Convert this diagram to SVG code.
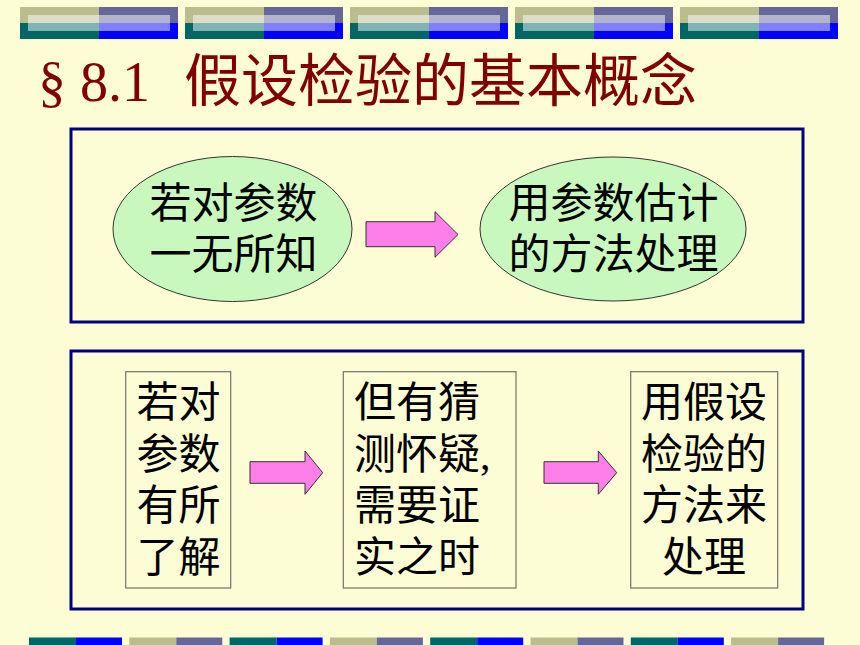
<svg xmlns="http://www.w3.org/2000/svg" width="860" height="645" viewBox="0 0 860 645">
<style>
.bg{fill:#FCFCD5}
.frame{fill:none;stroke:#000080;stroke-width:3}
.oval{fill:#C9F8BE;stroke:#333;stroke-width:1}
.box{fill:none;stroke:#707070;stroke-width:1.2}
.arrow{fill:#FF7FEA;stroke:#333;stroke-width:1}
.sans{font-family:"Liberation Sans","Noto Sans CJK SC",sans-serif;font-size:42px;fill:#000}
.serif{font-family:"Liberation Serif","Noto Sans CJK SC",serif;font-size:42px;fill:#000}
.title{font-family:"Liberation Serif","Noto Sans CJK SC",serif;font-size:56px;fill:#800000}
.ol{fill:#BBBD8F}.pu{fill:#666699}.te{fill:#006666}.bl{fill:#0000FF}
.hl{fill:#FFFFFF;fill-opacity:0.5}
</style>
<defs>
<g id="topblock">
<rect x="0" y="7" width="79" height="16" class="ol"/>
<rect x="79" y="7" width="79" height="16" class="pu"/>
<rect x="0" y="23" width="79" height="16" class="te"/>
<rect x="79" y="23" width="79" height="16" class="bl"/>
<rect x="8" y="15" width="142" height="16" class="hl"/>
</g>
<g id="botA">
<rect x="0" y="637.5" width="47" height="7.5" class="te"/>
<rect x="47" y="637.5" width="46" height="7.5" class="bl"/>
</g>
<g id="botB">
<rect x="0" y="637.5" width="47" height="7.5" class="ol"/>
<rect x="47" y="637.5" width="46" height="7.5" class="pu"/>
</g>
</defs>
<rect class="bg" x="0" y="0" width="860" height="645"/>
<g id="decor-top">
<use href="#topblock" x="20"/>
<use href="#topblock" x="185"/>
<use href="#topblock" x="350"/>
<use href="#topblock" x="515"/>
<use href="#topblock" x="680"/>
</g>
<g id="decor-bottom">
<use href="#botA" x="29"/>
<use href="#botB" x="129.3"/>
<use href="#botA" x="229.6"/>
<use href="#botB" x="329.9"/>
<use href="#botA" x="430.2"/>
<use href="#botB" x="530.5"/>
<use href="#botA" x="630.8"/>
<use href="#botB" x="731.1"/>
</g>
<g id="title">
<text class="title" y="101"><tspan x="38">§ 8.1</tspan><tspan x="184" font-size="57">假设检验的基本概念</tspan></text>
</g>
<g id="frame-top"><rect class="frame" x="71" y="129" width="732" height="193"/></g>
<g id="frame-bottom"><rect class="frame" x="71" y="351" width="732" height="258"/></g>
<g id="node-know-nothing">
<ellipse class="oval" cx="232.5" cy="229" rx="119.5" ry="72.5"/>
<text class="sans" text-anchor="middle" x="233.5" y="218">若对参数</text>
<text class="sans" text-anchor="middle" x="233.5" y="269">一无所知</text>
</g>
<g id="node-estimate">
<ellipse class="oval" cx="613" cy="229" rx="133" ry="72"/>
<text class="sans" text-anchor="middle" x="613.5" y="218">用参数估计</text>
<text class="sans" text-anchor="middle" x="613.5" y="269">的方法处理</text>
</g>
<g id="node-know-some">
<rect class="box" x="125.7" y="371.7" width="105" height="216.3"/>
<text class="serif" text-anchor="middle" x="178.5" y="417">若对</text>
<text class="serif" text-anchor="middle" x="178.5" y="469">参数</text>
<text class="serif" text-anchor="middle" x="178.5" y="520">有所</text>
<text class="serif" text-anchor="middle" x="178.5" y="572">了解</text>
</g>
<g id="node-suspect">
<rect class="box" x="343.3" y="371.7" width="172.7" height="216.3"/>
<text class="serif" x="354" y="417">但有猜</text>
<text class="serif" x="354" y="469">测怀疑,</text>
<text class="serif" x="354" y="520">需要证</text>
<text class="serif" x="354" y="572">实之时</text>
</g>
<g id="node-test">
<rect class="box" x="630.7" y="371.7" width="147" height="216.3"/>
<text class="serif" text-anchor="middle" x="704" y="417">用假设</text>
<text class="serif" text-anchor="middle" x="704" y="469">检验的</text>
<text class="serif" text-anchor="middle" x="704" y="520">方法来</text>
<text class="serif" text-anchor="middle" x="704" y="572">处理</text>
</g>
<g id="connectors">
<path class="arrow" d="M366,221.7 H435 V211.7 L458,234.5 L435,257.3 V246.7 H366 Z"/>
<path class="arrow" d="M250,461.7 H305 V451 L322.7,472.7 L305,494.3 V483.3 H250 Z"/>
<path class="arrow" d="M544,461.7 H598.3 V451 L616.7,472.7 L598.3,494.3 V483.3 H544 Z"/>
</g>
</svg>
